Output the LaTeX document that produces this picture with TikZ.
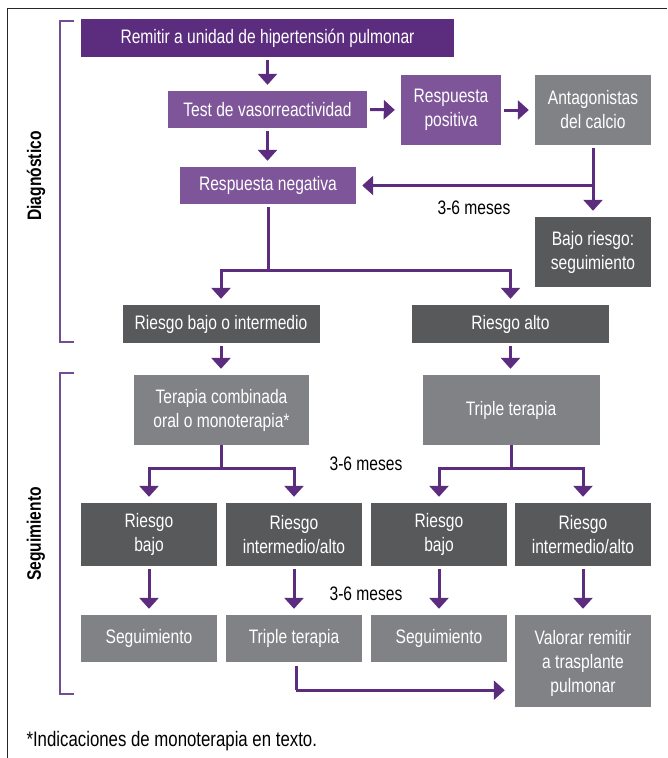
\documentclass[tikz,border=0pt]{standalone}
\usepackage{fontspec}
\setmainfont{Liberation Sans}[FakeStretch=0.8]
\usepackage{tikz}
\usetikzlibrary{arrows.meta}

\definecolor{moradoosc}{HTML}{5C2D7F}
\definecolor{morado}{HTML}{7D5598}
\definecolor{grisclaro}{HTML}{808285}
\definecolor{grisosc}{HTML}{58595B}

\tikzset{
    caja/.style={inner sep=0pt, text=white, align=center,
        font=\fontsize{19.5}{24}\selectfont},
    flecha/.style={draw=moradoosc, line width=3pt,
        -{Triangle[width=19pt,length=11pt]}, shorten >=6pt, shorten <=3pt},
    linea/.style={draw=moradoosc, line width=3pt},
    llave/.style={draw=moradoosc!85, line width=2pt},
    meses/.style={font=\fontsize{19.5}{24}\selectfont},
    fase/.style={font=\fontsize{19.5}{24}\selectfont\bfseries, rotate=90}
}

\begin{document}
\begin{tikzpicture}[x=1pt, y=-1pt]
    \useasboundingbox (0,0) rectangle (667,758);
    \draw[black!85, line width=1.3pt] (7.5,758) -- (7.5,8.5) -- (667,8.5);

    \node[caja, fill=moradoosc, minimum width=373, minimum height=38] (remitir) at (267.5,38) {Remitir a unidad de hipertensión pulmonar};
    \node[caja, fill=morado, minimum width=199, minimum height=37] (test) at (267.5,109.5) {Test de vasorreactividad};
    \node[caja, fill=morado, minimum width=100, minimum height=70] (positiva) at (451,110) {Respuesta\\positiva};
    \node[caja, fill=grisclaro, minimum width=116, minimum height=70] (antag) at (593,110) {Antagonistas\\del calcio};
    \node[caja, fill=morado, minimum width=176, minimum height=37] (negativa) at (268,185.5) {Respuesta negativa};
    \node[caja, fill=grisosc, minimum width=116, minimum height=70] (bajoseg) at (593,252) {Bajo riesgo:\\seguimiento};
    \node[caja, fill=grisosc, minimum width=197, minimum height=38] (rbi) at (221,324) {Riesgo bajo o intermedio};
    \node[caja, fill=grisosc, minimum width=197, minimum height=38] (ralto) at (510.5,324) {Riesgo alto};
    \node[caja, fill=grisclaro, minimum width=175, minimum height=70] (combi) at (221.5,410) {Terapia combinada\\oral o monoterapia*};
    \node[caja, fill=grisclaro, minimum width=177, minimum height=70] (triple) at (511,410) {Triple terapia};

    \node[caja, fill=grisosc, minimum width=136, minimum height=63] (bajoA) at (149,534.5) {Riesgo\\bajo};
    \node[caja, fill=grisosc, minimum width=136, minimum height=63] (altoA) at (294,534.5) {Riesgo\\intermedio/alto};
    \node[caja, fill=grisosc, minimum width=136, minimum height=63] (bajoB) at (439,534.5) {Riesgo\\bajo};
    \node[caja, fill=grisosc, minimum width=136, minimum height=63] (altoB) at (583,534.5) {Riesgo\\intermedio/alto};

    \node[caja, fill=grisclaro, minimum width=136, minimum height=47] (segA) at (149,638.5) {Seguimiento};
    \node[caja, fill=grisclaro, minimum width=136, minimum height=47] (tripleA) at (294,638.5) {Triple terapia};
    \node[caja, fill=grisclaro, minimum width=136, minimum height=47] (segB) at (439,638.5) {Seguimiento};
    \node[caja, fill=grisclaro, minimum width=136, minimum height=92, text depth=0pt] (valorar) at (583,661) {Valorar remitir\\a trasplante\\pulmonar};

    \node[meses] (mes1) at (474,208) {3-6 meses};
    \node[meses] (mes2) at (366,464) {3-6 meses};
    \node[meses] (mes3) at (366,594) {3-6 meses};
    \node[meses, anchor=west, font=\fontsize{21}{24}\selectfont] (nota) at (23,741) {*Indicaciones de monoterapia en texto.};

    \node[fase] (diag) at (36,176) {Diagnóstico};
    \node[fase] (segui) at (36,534) {Seguimiento};
    \draw[llave] (74,21) -- (59.5,21) -- (59.5,342) -- (74,342);
    \draw[llave] (74,373) -- (59.5,373) -- (59.5,694) -- (74,694);

    \draw[flecha] (test.north |- remitir.south) -- (test.north);
    \draw[flecha] (test.east) -- (positiva.west);
    \draw[flecha] (positiva.east) -- (antag.west);
    \draw[flecha] (test.south) -- (test.south |- negativa.north);
    \draw[flecha] (antag.south) -- (bajoseg.north);
    \draw[flecha, shorten <=0pt] (antag.south |- negativa.east) -- (negativa.east);

    \draw[linea, shorten <=3pt] (negativa.south) -- ++(0,66) coordinate (rama1);
    \draw[flecha, shorten <=0pt] (rama1) -| (rbi.north);
    \draw[flecha, shorten <=0pt] (rama1) -| (ralto.north);
    \draw[flecha] (rbi.south) -- (combi.north -| rbi.south);
    \draw[flecha] (ralto.south) -- (triple.north -| ralto.south);

    \draw[linea] (combi.south) -- ++(0,23) coordinate (rama2);
    \draw[flecha, shorten <=0pt] (rama2) -| (bajoA.north);
    \draw[flecha, shorten <=0pt] (rama2) -| (altoA.north);
    \draw[linea] (triple.south) -- ++(0,23) coordinate (rama3);
    \draw[flecha, shorten <=0pt] (rama3) -| (bajoB.north);
    \draw[flecha, shorten <=0pt] (rama3) -| (altoB.north);

    \draw[flecha] (bajoA.south) -- (segA.north);
    \draw[flecha] (altoA.south) -- (tripleA.north);
    \draw[flecha] (bajoB.south) -- (segB.north);
    \draw[flecha] (altoB.south) -- (valorar.north);

    \draw[linea, shorten <=4pt] ([xshift=2pt]tripleA.south) -- ++(0,28) coordinate (rama4);
    \draw[flecha, shorten <=0pt, shorten >=10pt] (rama4) -- (valorar.west |- rama4);
\end{tikzpicture}
\end{document}
